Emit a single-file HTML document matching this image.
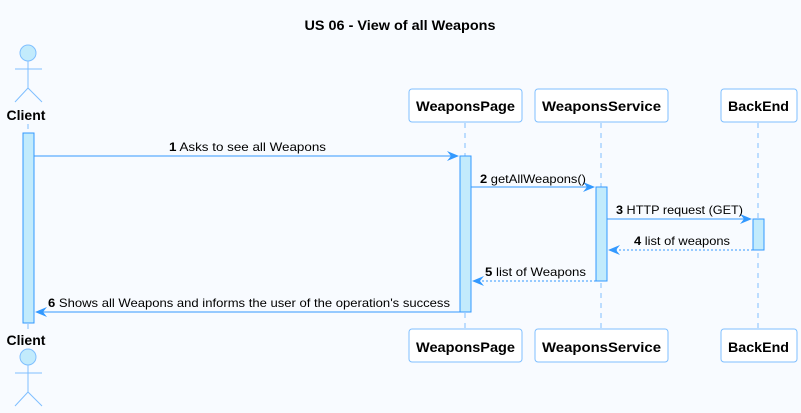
<!DOCTYPE html>
<html><head><meta charset="utf-8"><style>
body{margin:0;background:#f8fbff}
svg{display:block;font-family:"Liberation Sans",sans-serif}
</style></head><body>
<svg width="801" height="413" viewBox="0 0 801 413" xmlns="http://www.w3.org/2000/svg">
<rect width="801" height="413" fill="#f8fbff"/>
<text x="400" y="30" text-anchor="middle" font-size="14" font-weight="bold" textLength="191" lengthAdjust="spacingAndGlyphs">US 06 - View of all Weapons</text>
<g stroke="#7fbfff" stroke-dasharray="5,5" stroke-width="1">
<line x1="28" y1="124" x2="28" y2="330"/>
<line x1="465" y1="123" x2="465" y2="329"/>
<line x1="601" y1="123" x2="601" y2="329"/>
<line x1="758" y1="123" x2="758" y2="329"/>
</g>
<g fill="#c2ebfc" stroke="#7fbfff">
<circle cx="28" cy="53" r="8"/>
<circle cx="28" cy="357" r="8"/>
</g>
<g stroke="#7fbfff" fill="none">
<path d="M28 61V88M15 69H42M15 102L28 88L42 102"/>
<path d="M28 365V392M15 373H42M15 406L28 392L42 406"/>
</g>
<g font-size="14" font-weight="bold" text-anchor="middle">
<text x="26" y="120">Client</text>
<text x="26" y="345">Client</text>
</g>
<g fill="#fff" stroke="#7fbfff">
<rect x="409" y="89" width="113" height="33" rx="3"/>
<rect x="535" y="89" width="133" height="33" rx="3"/>
<rect x="721" y="89" width="76" height="33" rx="3"/>
<rect x="409" y="329" width="113" height="33" rx="3"/>
<rect x="535" y="329" width="133" height="33" rx="3"/>
<rect x="721" y="329" width="76" height="33" rx="3"/>
</g>
<g font-size="14" font-weight="bold">
<text x="416" y="111" textLength="99" lengthAdjust="spacingAndGlyphs">WeaponsPage</text>
<text x="542" y="111" textLength="119" lengthAdjust="spacingAndGlyphs">WeaponsService</text>
<text x="728" y="111" textLength="61" lengthAdjust="spacingAndGlyphs">BackEnd</text>
<text x="416" y="352" textLength="99" lengthAdjust="spacingAndGlyphs">WeaponsPage</text>
<text x="542" y="352" textLength="119" lengthAdjust="spacingAndGlyphs">WeaponsService</text>
<text x="728" y="352" textLength="61" lengthAdjust="spacingAndGlyphs">BackEnd</text>
</g>
<g fill="#c2ebfc" stroke="#3399ff">
<rect x="23" y="133" width="11" height="190"/>
<rect x="460" y="156" width="11" height="156"/>
<rect x="596" y="187" width="11" height="94"/>
<rect x="753" y="219" width="11" height="31"/>
</g>
<g stroke="#3399ff" fill="none">
<line x1="34" y1="156" x2="457" y2="156"/>
<line x1="471" y1="187" x2="593" y2="187"/>
<line x1="607" y1="219" x2="750" y2="219"/>
<line x1="753" y1="250" x2="610" y2="250" stroke-dasharray="2,2"/>
<line x1="596" y1="281" x2="474" y2="281" stroke-dasharray="2,2"/>
<line x1="460" y1="312" x2="37" y2="312"/>
</g>
<g fill="#3399ff">
<path d="M459 156L447 151L451 156L447 161Z"/>
<path d="M595 187L583 182L587 187L583 192Z"/>
<path d="M752 219L740 214L744 219L740 224Z"/>
<path d="M608 250L620 245L616 250L620 255Z"/>
<path d="M472 281L484 276L480 281L484 286Z"/>
<path d="M35 312L47 307L43 312L47 317Z"/>
</g>
<g font-size="12" fill="#000" lengthAdjust="spacingAndGlyphs">
<text x="169" y="151" textLength="157" lengthAdjust="spacingAndGlyphs"><tspan font-weight="bold">1</tspan> Asks to see all Weapons</text>
<text x="480" y="183" textLength="106" lengthAdjust="spacingAndGlyphs"><tspan font-weight="bold">2</tspan> getAllWeapons()</text>
<text x="616" y="214" textLength="127" lengthAdjust="spacingAndGlyphs"><tspan font-weight="bold">3</tspan> HTTP request (GET)</text>
<text x="634" y="245" textLength="96" lengthAdjust="spacingAndGlyphs"><tspan font-weight="bold">4</tspan> list of weapons</text>
<text x="485" y="276" textLength="101" lengthAdjust="spacingAndGlyphs"><tspan font-weight="bold">5</tspan> list of Weapons</text>
<text x="48" y="307" textLength="402" lengthAdjust="spacingAndGlyphs"><tspan font-weight="bold">6</tspan> Shows all Weapons and informs the user of the operation's success</text>
</g>
</svg>
</body></html>
